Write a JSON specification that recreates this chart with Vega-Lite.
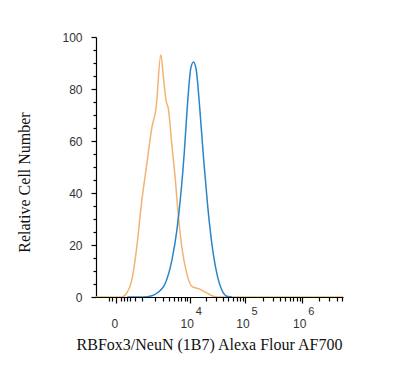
{
  "$schema": "https://vega.github.io/schema/vega-lite/v6.json",
  "autosize": "none",
  "width": 247,
  "height": 260,
  "padding": {"left": 96, "top": 37, "right": 57, "bottom": 81},
  "background": "white",
  "datasets": {
    "iso": [
      {"x": -690, "y": 0}, {"x": 132, "y": 0}, {"x": 283, "y": 1.5}, {"x": 468, "y": 6.4},
      {"x": 694, "y": 19.2}, {"x": 972, "y": 37}, {"x": 1311, "y": 51}, {"x": 1727, "y": 65},
      {"x": 2160, "y": 72.8}, {"x": 2727, "y": 93.2}, {"x": 3094, "y": 84.3}, {"x": 3509, "y": 75.4},
      {"x": 3911, "y": 72.2}, {"x": 4557, "y": 58.7}, {"x": 5292, "y": 46}, {"x": 6134, "y": 30.7},
      {"x": 7104, "y": 19.2}, {"x": 8823, "y": 8.9}, {"x": 10930, "y": 4.1}, {"x": 14470, "y": 3.2},
      {"x": 19150, "y": 1.9}, {"x": 25250, "y": 0.5}, {"x": 33200, "y": 0}, {"x": 5200000, "y": 0}
    ],
    "ab": [
      {"x": 300, "y": 0}, {"x": 1077, "y": 0}, {"x": 1727, "y": 0.5}, {"x": 2427, "y": 1.9},
      {"x": 3346, "y": 5.1}, {"x": 4557, "y": 14}, {"x": 5700, "y": 25.5}, {"x": 6806, "y": 39.6},
      {"x": 7862, "y": 54.9}, {"x": 9062, "y": 74}, {"x": 10480, "y": 88.1}, {"x": 11710, "y": 90.4},
      {"x": 13120, "y": 87.5}, {"x": 15070, "y": 74}, {"x": 17840, "y": 53.6}, {"x": 21060, "y": 35.8},
      {"x": 25250, "y": 20.4}, {"x": 31100, "y": 8.9}, {"x": 38230, "y": 2.6}, {"x": 46930, "y": 0.3},
      {"x": 57460, "y": 0}
    ],
    "exps": [
      {"x": 10000, "y": 0, "e": "4"}, {"x": 100000, "y": 0, "e": "5"}, {"x": 1000000, "y": 0, "e": "6"}
    ]
  },
  "encoding": {
    "x": {
      "field": "x", "type": "quantitative",
      "scale": {"type": "symlog", "constant": 540, "domain": [-690, 5200000], "nice": false, "zero": false},
      "axis": {
        "title": "RBFox3/NeuN (1B7) Alexa Flour AF700",
        "values": [-200, -100, 0, 100, 200, 300, 400, 600, 1000, 2000, 3000, 4000, 5000, 6000, 7000, 8000, 9000,
                   10000, 20000, 30000, 40000, 50000, 60000, 70000, 80000, 90000,
                   100000, 200000, 300000, 400000, 500000, 600000, 700000, 800000, 900000,
                   1000000, 2000000, 3000000, 4000000, 5000000],
        "labelExpr": "datum.value == 0 ? '0' : (datum.value == 10000 || datum.value == 100000 || datum.value == 1000000) ? '10' : ''",
        "labelOffset": {"condition": {"test": "datum.value == 0", "value": -2}, "value": -3},
        "tickSize": {"condition": {"test": "datum.value == 0 || datum.value == 10000 || datum.value == 100000 || datum.value == 1000000", "value": 6}, "value": 4},
        "labelOverlap": false,
        "labelPadding": 15,
        "labelFlush": false,
        "titleX": 113,
        "titleAlign": "center",
        "titlePadding": 7,
        "grid": false
      }
    },
    "y": {
      "field": "y", "type": "quantitative",
      "scale": {"domain": [0, 100], "nice": false},
      "axis": {
        "title": "Relative Cell Number",
        "values": [0, 5, 10, 15, 20, 25, 30, 35, 40, 45, 50, 55, 60, 65, 70, 75, 80, 85, 90, 95, 100],
        "labelExpr": "datum.value % 20 == 0 ? datum.label : ''",
        "tickSize": {"condition": {"test": "datum.value % 20 == 0", "value": 5}, "value": 3},
        "labelPadding": 9,
        "labelOverlap": false,
        "titleX": -64,
        "titleY": 145,
        "titleAlign": "center",
        "grid": false
      }
    }
  },
  "layer": [
    {"data": {"name": "iso"}, "mark": {"type": "line", "color": "#f3b46f", "strokeWidth": 1.5, "interpolate": "monotone", "clip": true}},
    {"data": {"name": "ab"}, "mark": {"type": "line", "color": "#2b85c8", "strokeWidth": 1.5, "interpolate": "monotone", "clip": true}},
    {
      "data": {"name": "exps"},
      "mark": {"type": "text", "align": "left", "baseline": "top", "dx": 6, "dy": 9, "font": "Liberation Sans", "fontSize": 11, "fill": "#333"},
      "encoding": {
        "text": {"field": "e", "type": "nominal"}
      }
    }
  ],
  "config": {
    "view": {"stroke": null},
    "axis": {
      "domainColor": "#000", "tickColor": "#000", "domainWidth": 1.2, "tickWidth": 1.2,
      "labelFont": "Liberation Sans", "labelFontSize": 12, "labelColor": "#333",
      "titleFont": "Liberation Serif", "titleFontSize": 16, "titleFontWeight": "normal", "titleColor": "#111"
    }
  }
}
